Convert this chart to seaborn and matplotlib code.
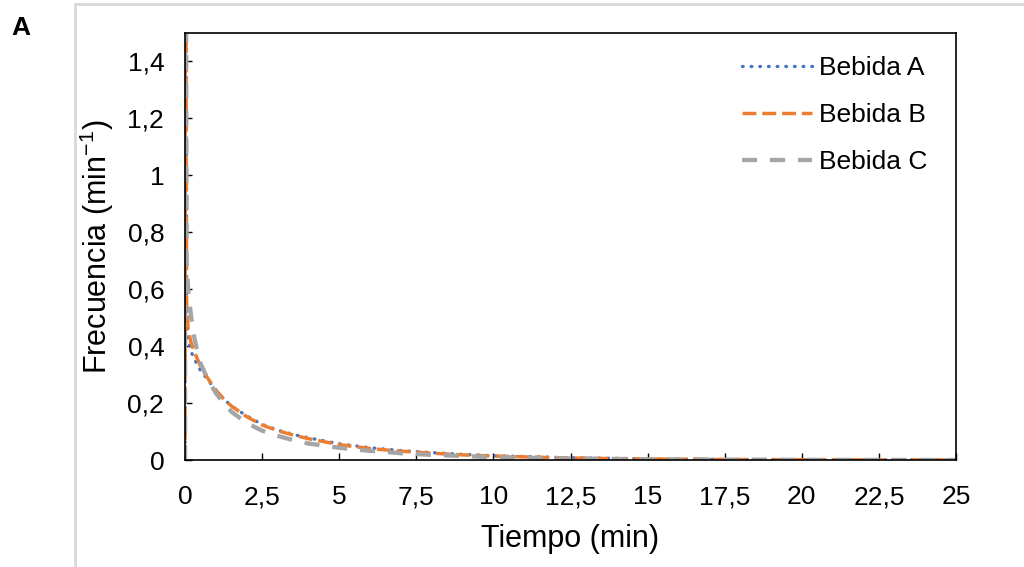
import pandas as pd
import seaborn as sns
import matplotlib.pyplot as plt
from matplotlib.lines import Line2D

# Datos (frecuencia vs tiempo)
tiempo = [0, 0.01, 0.05, 0.1, 0.2, 0.3, 0.4, 0.5, 0.75, 1, 1.25, 1.5, 2, 2.5, 3,
          3.5, 4, 5, 6, 7, 8, 9, 10, 11, 12.5, 15, 17.5, 20, 22.5, 25]
bebida_a = [0, 3.0, 0.50, 0.42, 0.38, 0.355, 0.335, 0.315, 0.28, 0.245, 0.215, 0.19,
            0.155, 0.125, 0.105, 0.09, 0.078, 0.057, 0.043, 0.033, 0.026, 0.02, 0.015,
            0.012, 0.008, 0.004, 0.002, 0.001, 0.0005, 0.0002]
bebida_b = [0, 3.0, 0.55, 0.46, 0.41, 0.38, 0.355, 0.33, 0.285, 0.245, 0.215, 0.19,
            0.152, 0.123, 0.103, 0.088, 0.075, 0.054, 0.04, 0.031, 0.024, 0.018, 0.014,
            0.011, 0.007, 0.0035, 0.0018, 0.0009, 0.0004, 0.0002]
bebida_c = [0, 3.0, 0.70, 0.60, 0.50, 0.43, 0.38, 0.34, 0.28, 0.235, 0.2, 0.17,
            0.13, 0.103, 0.085, 0.07, 0.058, 0.043, 0.032, 0.024, 0.018, 0.014, 0.01,
            0.008, 0.005, 0.0025, 0.0012, 0.0006, 0.0003, 0.0001]
series = ["Bebida A", "Bebida B", "Bebida C"]
x_ticks = [0, 2.5, 5, 7.5, 10, 12.5, 15, 17.5, 20, 22.5, 25]
y_ticks = [0, 0.2, 0.4, 0.6, 0.8, 1, 1.2, 1.4]

df = pd.concat([
    pd.DataFrame({"Tiempo": tiempo, "Frecuencia": v, "Bebida": s})
    for s, v in zip(series, [bebida_a, bebida_b, bebida_c])
])

sns.set_style("white")
plt.rcParams['font.family'] = ['Liberation Sans', 'DejaVu Sans']
plt.rcParams['mathtext.fontset'] = 'custom'
plt.rcParams['mathtext.rm'] = 'Liberation Sans'
plt.rcParams['mathtext.it'] = 'Liberation Sans'
for k in ['text.color', 'axes.labelcolor', 'xtick.color', 'ytick.color']:
    plt.rcParams[k] = 'black'

colores = {"Bebida A": "#4472C4", "Bebida B": "#ED7D31", "Bebida C": "#A5A5A5"}
estilos = {"Bebida A": (0.2, 2.4), "Bebida B": (4, 1.7), "Bebida C": (3.5, 3)}
grosor = {"Bebida A": 2.4, "Bebida B": 2.5, "Bebida C": 3.1}

fig = plt.figure(figsize=(10.24, 5.67), dpi=100)
ax = fig.add_axes([0.1807, 0.1887, 0.9336 - 0.1807, 0.9418 - 0.1887])

for s in series:
    sns.lineplot(data=df[df["Bebida"] == s], x="Tiempo", y="Frecuencia", ax=ax,
                 color=colores[s], estimator=None, label=s)
for line, s in zip(ax.lines, series):
    line.set_linewidth(grosor[s])
    line.set_dashes(estilos[s])
    line.set_dash_capstyle('round' if s == "Bebida A" else 'butt')

ax.set_xlim(0, 25)
ax.set_ylim(0, 1.5)
ax.set_xticks(x_ticks)
ax.set_xticklabels([f"{v:g}".replace(".", ",") for v in x_ticks])
ax.set_yticks(y_ticks)
ax.set_yticklabels([f"{v:g}".replace(".", ",") for v in y_ticks])
ax.tick_params(direction='in', length=5, width=1, labelsize=19, color='black',
               left=True, bottom=True)
ax.tick_params(axis='x', pad=18)
ax.tick_params(axis='y', pad=15)
for sp in ax.spines.values():
    sp.set_color('black')
    sp.set_linewidth(1.2)

ax.set_xlabel("Tiempo (min)", fontsize=22, labelpad=11)
ax.set_ylabel("Frecuencia (min$^{-1}$)", fontsize=22, labelpad=8)

leg = ax.legend(loc='upper left', bbox_to_anchor=(0.722, 0.945), frameon=False,
                fontsize=19, handlelength=2.65, handletextpad=0.28,
                labelspacing=0.86, borderpad=0, borderaxespad=0)

# marco gris claro exterior
fig.add_artist(Line2D([0.0732, 0.0732], [0, 0.993], color='#D9D9D9', lw=2,
                      transform=fig.transFigure))
fig.add_artist(Line2D([0.0732, 1], [0.993, 0.993], color='#D9D9D9', lw=2,
                      transform=fig.transFigure))
fig.text(0.011, 0.938, "A", fontsize=19, fontweight='bold')

fig.savefig("out.png", dpi=100)
